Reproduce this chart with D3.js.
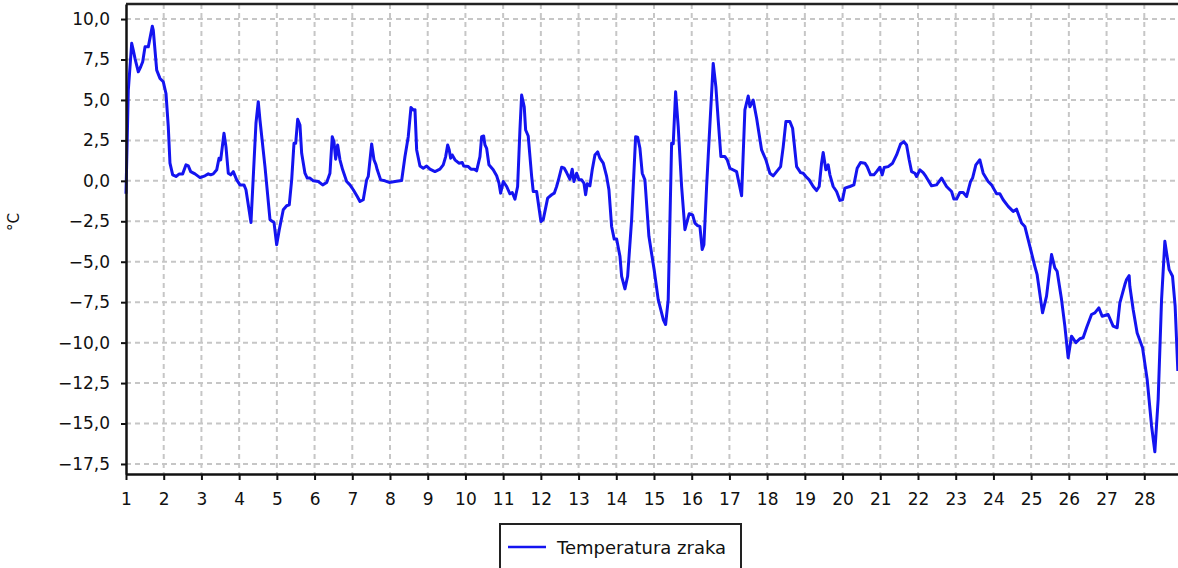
<!DOCTYPE html>
<html>
<head>
<meta charset="utf-8">
<script src="https://cdn.jsdelivr.net/npm/d3@7"></script>
<style>
  body { margin: 0; background: #fff; overflow: hidden; }
  svg { display: block; font-family: "DejaVu Sans", Verdana, sans-serif; }
</style>
</head>
<body>
<div id="chart-container"></div>
<script>
// CONSTANTS
const WIDTH = 1178;
const HEIGHT = 568;
const PLOT_LEFT = 126;
const PLOT_RIGHT = 1182;
const PLOT_TOP = 4;
const PLOT_BOTTOM = 474;

// DATA (day of month, air temperature in °C)
const days = [
  1.000, 1.061, 1.151, 1.194, 1.239, 1.326, 1.390, 1.443, 1.504, 1.591, 1.697, 1.724, 1.814, 1.901, 1.989,
  2.060, 2.121, 2.166, 2.238, 2.326, 2.413, 2.503, 2.591, 2.652, 2.715, 2.829, 2.962,
  3.094, 3.182, 3.245, 3.314, 3.405, 3.466, 3.511, 3.598, 3.651, 3.712, 3.776, 3.845, 3.935,
  4.022, 4.128, 4.181, 4.314, 4.446, 4.507, 4.552, 4.685, 4.818, 4.924, 4.995,
  5.064, 5.170, 5.260, 5.329, 5.393, 5.454, 5.499, 5.552, 5.613, 5.658, 5.745, 5.806, 5.878, 5.966,
  6.098, 6.215, 6.321, 6.408, 6.469, 6.514, 6.559, 6.612, 6.673, 6.745, 6.851, 6.938,
  7.026, 7.132, 7.204, 7.291, 7.381, 7.424, 7.514, 7.575, 7.628, 7.662, 7.752, 7.866, 7.980,
  8.131, 8.309, 8.397, 8.484, 8.556, 8.617, 8.662, 8.707, 8.794, 8.882, 8.972,
  9.059, 9.192, 9.324, 9.412, 9.476, 9.529, 9.571, 9.608, 9.650, 9.722, 9.828, 9.916, 9.953,
  10.075, 10.146, 10.234, 10.297, 10.385, 10.430, 10.483, 10.518, 10.562, 10.623, 10.737, 10.828, 10.889, 10.934,
  11.003, 11.093, 11.180, 11.241, 11.313, 11.384, 11.445, 11.490, 11.559, 11.597, 11.665, 11.756, 11.798, 11.888,
  12.002, 12.063, 12.180, 12.286, 12.355, 12.418, 12.479, 12.551, 12.620, 12.683, 12.771, 12.832, 12.877, 12.949,
  13.010, 13.081, 13.142, 13.187, 13.230, 13.301, 13.362, 13.434, 13.505, 13.566, 13.654, 13.744, 13.805, 13.876, 13.945,
  14.009, 14.097, 14.142, 14.229, 14.301, 14.407, 14.513, 14.566, 14.627, 14.688, 14.759, 14.865,
  15.006, 15.112, 15.245, 15.308, 15.377, 15.467, 15.510, 15.573, 15.642, 15.732, 15.820, 15.865, 15.934,
  16.024, 16.085, 16.156, 16.217, 16.278, 16.323, 16.395, 16.437, 16.527, 16.570, 16.641, 16.702, 16.774, 16.880, 16.941,
  17.013, 17.190, 17.323, 17.410, 17.498, 17.543, 17.630, 17.721, 17.853, 17.967,
  18.073, 18.161, 18.251, 18.357, 18.426, 18.497, 18.603, 18.675, 18.781, 18.887, 18.956,
  19.027, 19.115, 19.221, 19.311, 19.380, 19.443, 19.486, 19.557, 19.618, 19.664, 19.751, 19.841, 19.929,
  20.000, 20.061, 20.194, 20.300, 20.387, 20.477, 20.591, 20.652, 20.742, 20.830, 20.901, 20.989,
  21.050, 21.103, 21.209, 21.326, 21.432, 21.538, 21.626, 21.697, 21.766, 21.830, 21.917, 21.962,
  22.050, 22.137, 22.209, 22.360, 22.492, 22.625, 22.757, 22.890, 22.951,
  23.023, 23.110, 23.198, 23.288, 23.394, 23.447, 23.534, 23.640, 23.728, 23.860, 23.950,
  24.083, 24.170, 24.258, 24.391, 24.523, 24.613, 24.746, 24.833, 24.966,
  25.098, 25.159, 25.302, 25.408, 25.541, 25.628, 25.689, 25.806, 25.894, 25.981,
  26.071, 26.185, 26.291, 26.379, 26.469, 26.601, 26.689, 26.795, 26.883,
  27.042, 27.174, 27.281, 27.352, 27.485, 27.530, 27.599, 27.617, 27.705, 27.811, 27.954,
  28.076, 28.193, 28.280, 28.368, 28.458, 28.545, 28.659, 28.749, 28.818, 28.890
];

const temps = [
  -0.80, 5.60, 8.50, 8.07, 7.56, 6.74, 7.05, 7.36, 8.28, 8.28, 9.56, 9.30, 6.84, 6.33, 6.12,
  5.40, 3.35, 1.09, 0.37, 0.27, 0.43, 0.43, 0.99, 0.92, 0.57, 0.43, 0.20,
  0.31, 0.43, 0.37, 0.43, 0.68, 1.40, 1.30, 2.94, 2.10, 0.47, 0.37, 0.57, 0.06,
  -0.25, -0.25, -0.55, -2.57, 3.56, 4.89, 3.76, 0.88, -2.40, -2.57, -3.95,
  -3.02, -1.79, -1.54, -1.48, 0.06, 2.32, 2.32, 3.80, 3.45, 1.70, 0.47, 0.17, 0.17, 0.00,
  -0.04, -0.25, -0.10, 0.47, 2.73, 2.42, 1.34, 2.22, 1.30, 0.68, -0.04, -0.25,
  -0.55, -0.97, -1.28, -1.17, 0.06, 0.27, 2.28, 1.30, 0.99, 0.68, 0.06, 0.00, -0.10,
  -0.04, 0.02, 1.50, 2.73, 4.54, 4.38, 4.40, 1.91, 0.92, 0.78, 0.92,
  0.72, 0.57, 0.72, 0.99, 1.50, 2.22, 1.91, 1.40, 1.60, 1.30, 1.09, 1.13, 0.92,
  0.88, 0.72, 0.72, 0.62, 1.50, 2.73, 2.77, 2.22, 2.01, 0.99, 0.68, 0.31, -0.14, -0.76,
  -0.04, -0.35, -0.80, -0.72, -1.13, -0.35, 3.14, 5.30, 4.58, 3.14, 2.77, 0.27, -0.66, -0.66,
  -2.51, -2.40, -1.07, -0.86, -0.76, -0.35, 0.17, 0.84, 0.78, 0.51, 0.10, 0.72, -0.04, 0.47,
  0.06, 0.06, -0.14, -0.86, -0.18, -0.31, 0.68, 1.60, 1.79, 1.40, 1.09, 0.27, -0.55, -2.82, -3.60,
  -3.60, -4.66, -5.90, -6.68, -5.90, -2.40, 2.73, 2.70, 2.01, 0.47, 0.06, -3.43,
  -5.53, -7.34, -8.57, -8.88, -7.34, 2.32, 2.30, 5.50, 3.35, -0.35, -3.02, -2.61, -2.03,
  -2.10, -2.61, -2.77, -2.82, -4.25, -3.95, -0.35, 1.50, 5.40, 7.26, 5.81, 3.76, 1.50, 1.50, 1.30,
  0.78, 0.57, -0.92, 4.38, 5.24, 4.58, 4.99, 3.87, 1.91, 1.30,
  0.47, 0.31, 0.57, 0.88, 2.10, 3.66, 3.66, 3.25, 0.88, 0.51, 0.47,
  0.27, 0.06, -0.35, -0.60, -0.35, 1.09, 1.75, 0.68, 0.99, 0.37, -0.35, -0.66, -1.21,
  -1.17, -0.45, -0.35, -0.25, 0.78, 1.13, 1.09, 0.88, 0.37, 0.37, 0.57, 0.84,
  0.37, 0.82, 0.88, 1.09, 1.60, 2.28, 2.42, 2.22, 1.30, 0.57, 0.47, 0.27,
  0.68, 0.51, 0.27, -0.31, -0.25, 0.17, -0.35, -0.66, -1.13,
  -1.13, -0.72, -0.72, -0.97, -0.04, 0.17, 0.99, 1.30, 0.47, -0.04, -0.25,
  -0.80, -0.80, -1.17, -1.58, -1.89, -1.75, -2.61, -2.82, -4.05,
  -5.28, -5.80, -8.16, -7.13, -4.56, -5.38, -5.59, -7.34, -8.98, -10.93,
  -9.60, -10.00, -9.76, -9.70, -9.08, -8.26, -8.16, -7.85, -8.37,
  -8.26, -8.98, -9.08, -7.54, -6.41, -6.10, -5.86, -6.52, -7.95, -9.40, -10.32,
  -12.27, -15.15, -16.75, -13.50, -7.34, -3.74, -5.49, -5.90, -7.75, -11.75
];

const xTicks = d3.range(1, 29);
const yTicks = [-17.5, -15, -12.5, -10, -7.5, -5, -2.5, 0, 2.5, 5, 7.5, 10];
const seriesName = "Temperatura zraka";
const unitLabel = "°C";

const commaFormat = d3.formatLocale({ decimal: ",", thousands: ".", grouping: [3], currency: ["", ""] }).format(".1f");

// CHART
const svg = d3.select("#chart-container")
  .append("svg")
  .attr("width", WIDTH)
  .attr("height", HEIGHT);

const x = d3.scaleLinear().domain([1, 29]).range([PLOT_LEFT, PLOT_RIGHT]);
const y = d3.scaleLinear().domain([-18.12, 10.93]).range([PLOT_BOTTOM, PLOT_TOP]);

// grid
const grid = svg.append("g")
  .attr("stroke", "#c6c6c6")
  .attr("stroke-width", 2)
  .attr("stroke-dasharray", "5,4");

grid.selectAll(".hgrid")
  .data(yTicks)
  .enter()
  .append("line")
  .attr("x1", PLOT_LEFT)
  .attr("x2", PLOT_RIGHT)
  .attr("y1", d => y(d))
  .attr("y2", d => y(d));

grid.selectAll(".vgrid")
  .data(xTicks.filter(d => d > 1))
  .enter()
  .append("line")
  .attr("x1", d => x(d))
  .attr("x2", d => x(d))
  .attr("y1", PLOT_TOP)
  .attr("y2", PLOT_BOTTOM);

// top border
svg.append("line")
  .attr("x1", PLOT_LEFT)
  .attr("x2", PLOT_RIGHT)
  .attr("y1", PLOT_TOP)
  .attr("y2", PLOT_TOP)
  .attr("stroke", "#222")
  .attr("stroke-width", 2.5);

// line
const points = days.map((d, i) => [d, temps[i]]);
const lineGen = d3.line()
  .x(d => x(d[0]))
  .y(d => y(d[1]));

svg.append("path")
  .datum(points)
  .attr("d", lineGen)
  .attr("fill", "none")
  .attr("stroke", "#1414f0")
  .attr("stroke-width", 3)
  .attr("stroke-linejoin", "round");

// axes
const yAxis = svg.append("g")
  .attr("transform", `translate(${PLOT_LEFT},0)`)
  .call(d3.axisLeft(y).tickValues(yTicks).tickSize(5).tickPadding(11).tickFormat(commaFormat).tickSizeOuter(0));

const xAxis = svg.append("g")
  .attr("transform", `translate(0,${PLOT_BOTTOM})`)
  .call(d3.axisBottom(x).tickValues(xTicks).tickSize(6).tickPadding(13).tickFormat(d3.format("d")).tickSizeOuter(0));

[yAxis, xAxis].forEach(ax => {
  ax.select(".domain").attr("stroke", "#111").attr("stroke-width", 2.5);
  ax.selectAll(".tick line").attr("stroke", "#111").attr("stroke-width", 2);
  ax.selectAll(".tick text")
    .attr("fill", "#111")
    .style("font-size", "17px")
    .style("font-family", "'DejaVu Sans', Verdana, sans-serif");
});

// y label
svg.append("text")
  .attr("transform", "translate(19,222) rotate(-90)")
  .attr("text-anchor", "middle")
  .attr("fill", "#111")
  .style("font-size", "15px")
  .text(unitLabel);

// legend
const legend = svg.append("g").attr("transform", "translate(500,524)");

legend.append("rect")
  .attr("width", 241)
  .attr("height", 70)
  .attr("fill", "white")
  .attr("stroke", "#222")
  .attr("stroke-width", 2);

legend.append("line")
  .attr("x1", 8)
  .attr("x2", 46)
  .attr("y1", 23)
  .attr("y2", 23)
  .attr("stroke", "#1414f0")
  .attr("stroke-width", 2.5);

legend.append("text")
  .attr("x", 57)
  .attr("y", 30)
  .attr("fill", "#111")
  .style("font-size", "18px")
  .text(seriesName);
</script>
</body>
</html>
